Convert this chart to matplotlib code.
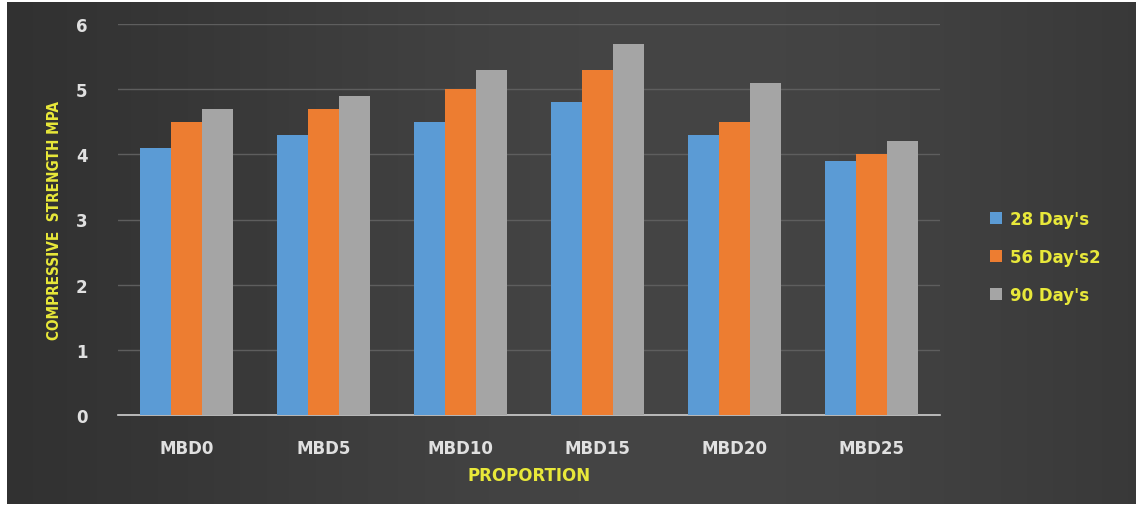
import matplotlib.pyplot as plt
import numpy as np

categories = ['MBD0', 'MBD5', 'MBD10', 'MBD15', 'MBD20', 'MBD25']
day28 = [4.1, 4.3, 4.5, 4.8, 4.3, 3.9]
day56 = [4.5, 4.7, 5.0, 5.3, 4.5, 4.0]
day90 = [4.7, 4.9, 5.3, 5.7, 5.1, 4.2]
series_names = ["28 Day's", "56 Day's2", "90 Day's"]
colors = ['#5B9BD5', '#ED7D31', '#A5A5A5']

W, H = 1140, 510
fig = plt.figure(figsize=(W / 100, H / 100), dpi=100)
fig.patch.set_facecolor('white')

# dark gradient panel behind the chart
bg = fig.add_axes([7 / W, 5 / H, (1136 - 7) / W, (506 - 4) / H])
xx = np.linspace(0, 1, 300)
grad = 0.17 + 0.10 * np.exp(-((xx - 0.6) / 0.5) ** 2)
img = np.tile(grad, (50, 1))
bg.imshow(np.dstack([img, img, img]), aspect='auto', extent=[0, 1, 0, 1])
bg.set_axis_off()

ax = fig.add_axes([118 / W, 1 - 416 / H, (940 - 118) / W, (416 - 25) / H])
ax.patch.set_alpha(0)

x = np.arange(len(categories))
w = 0.225
for i, (vals, name, c) in enumerate(zip([day28, day56, day90], series_names, colors)):
    ax.bar(x + (i - 1) * w, vals, w, color=c, label=name, zorder=3)

ax.set_xlim(-0.5, len(categories) - 0.5)
ax.set_ylim(0, 6)
ax.set_yticks(range(7))
ax.grid(axis='y', color='#5e5e5e', linewidth=1, zorder=0)
for s in ['top', 'right', 'left']:
    ax.spines[s].set_visible(False)
ax.spines['bottom'].set_color('#cfcfcf')
ax.spines['bottom'].set_linewidth(1.2)
ax.tick_params(length=0, colors='#e0e0e0', labelsize=12)
ax.tick_params(axis='y', pad=22)
ax.tick_params(axis='x', pad=17)
ax.set_xticks(x)
ax.set_xticklabels(categories)
for lbl in ax.get_xticklabels() + ax.get_yticklabels():
    lbl.set_fontweight('bold')

ax.set_xlabel('PROPORTION', color='#e8e83a', fontsize=12, fontweight='bold', labelpad=7)
ax.set_ylabel('COMPRESSIVE  STRENGTH MPA', color='#e8e83a', fontsize=11,
              fontweight='bold', fontstretch='condensed', labelpad=10)

leg = fig.legend(loc='center left', bbox_to_anchor=(975 / W, 1 - 258 / H),
                 frameon=False, fontsize=12, handlelength=0.7, handleheight=0.7,
                 handletextpad=0.5, labelspacing=1.2)
for t in leg.get_texts():
    t.set_color('#e8e83a')
    t.set_fontweight('bold')

fig.savefig('out.png', dpi=100, facecolor=fig.get_facecolor())
